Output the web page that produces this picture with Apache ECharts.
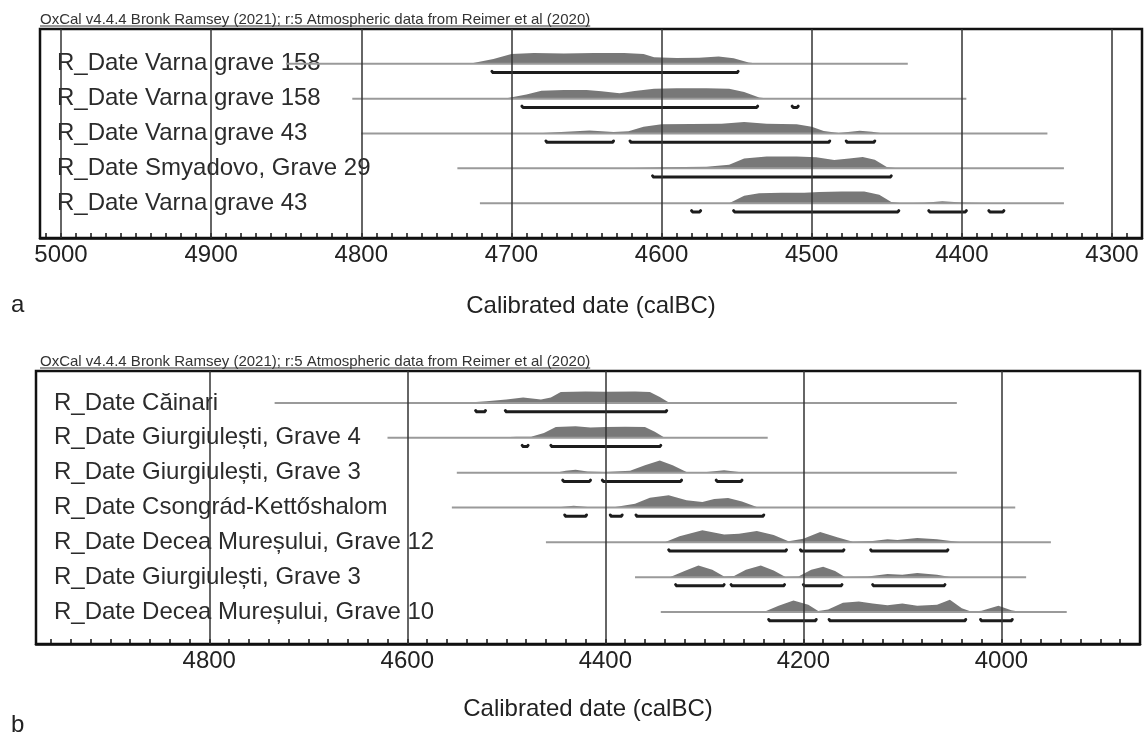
<!DOCTYPE html>
<html>
<head>
<meta charset="utf-8">
<title>OxCal multiplot</title>
<script src="https://cdn.jsdelivr.net/npm/echarts@6/dist/echarts.min.js"></script>
<style>
  html, body { margin: 0; padding: 0; background: #fff; }
  #chart { width: 1145px; height: 735px; }
</style>
</head>
<body>
<div id="chart"></div>
<script>
// ---- panel a ----
const labelsA = [
  'R_Date Varna grave 158',
  'R_Date Varna grave 158',
  'R_Date Varna grave 43',
  'R_Date Smyadovo, Grave 29',
  'R_Date Varna grave 43'
];
// full range line drawn for each date (calBC)
const spanA = [[4850, 4436], [4806, 4397], [4800, 4343], [4736, 4332], [4721, 4332]];
// 95.4% ranges (bars under each curve)
const hpdA = [
  [[4713, 4549]],
  [[4693, 4536], [4513, 4509]],
  [[4677, 4632], [4621, 4488], [4477, 4458]],
  [[4606, 4447]],
  [[4580, 4574], [4552, 4442], [4422, 4397], [4382, 4372]]
];
// probability curves, [year, relative height]
const probA = [
  [[4728, 0], [4712, 0.4], [4700, 0.8], [4685, 0.88], [4665, 0.85], [4645, 0.88], [4625, 0.88], [4612, 0.8], [4605, 0.55], [4590, 0.48], [4575, 0.5], [4562, 0.6], [4552, 0.45], [4542, 0.1], [4535, 0]],
  [[4705, 0], [4690, 0.35], [4680, 0.65], [4665, 0.72], [4650, 0.72], [4640, 0.6], [4628, 0.45], [4618, 0.62], [4605, 0.82], [4590, 0.86], [4570, 0.86], [4555, 0.82], [4545, 0.55], [4535, 0.1], [4528, 0]],
  [[4685, 0], [4670, 0.1], [4648, 0.25], [4632, 0.12], [4622, 0.18], [4612, 0.55], [4600, 0.75], [4580, 0.78], [4560, 0.8], [4545, 0.95], [4530, 0.8], [4510, 0.75], [4500, 0.55], [4492, 0.2], [4482, 0.05], [4468, 0.22], [4460, 0.15], [4452, 0]],
  [[4625, 0], [4600, 0.08], [4570, 0.12], [4555, 0.3], [4545, 0.8], [4530, 0.97], [4510, 0.97], [4497, 0.9], [4485, 0.68], [4475, 0.8], [4466, 0.93], [4458, 0.7], [4450, 0.1], [4443, 0]],
  [[4555, 0], [4545, 0.6], [4535, 0.82], [4520, 0.85], [4505, 0.85], [4495, 0.92], [4480, 0.95], [4465, 0.95], [4455, 0.7], [4447, 0.1], [4440, 0], [4425, 0.03], [4413, 0.15], [4400, 0.05], [4380, 0]]
];
const ticksA = [5000, 4900, 4800, 4700, 4600, 4500, 4400, 4300];

// ---- panel b ----
const labelsB = [
  'R_Date Căinari',
  'R_Date Giurgiulești, Grave 4',
  'R_Date Giurgiulești, Grave 3',
  'R_Date Csongrád-Kettőshalom',
  'R_Date Decea Mureșului, Grave 12',
  'R_Date Giurgiulești, Grave 3',
  'R_Date Decea Mureșului, Grave 10'
];
const spanB = [[4734, 4045], [4620, 4236], [4550, 4045], [4555, 3986], [4460, 3950], [4370, 3975], [4344, 3934]];
const hpdB = [
  [[4531, 4521], [4501, 4338]],
  [[4484, 4478], [4455, 4344]],
  [[4443, 4415], [4403, 4323], [4288, 4262]],
  [[4441, 4419], [4395, 4383], [4369, 4240]],
  [[4336, 4217], [4203, 4159], [4132, 4054]],
  [[4329, 4280], [4273, 4219], [4200, 4161], [4130, 4057]],
  [[4235, 4187], [4174, 4036], [4021, 3989]]
];
const probB = [
  [[4545, 0], [4520, 0.15], [4500, 0.3], [4483, 0.45], [4465, 0.28], [4455, 0.45], [4445, 0.9], [4420, 0.95], [4400, 0.93], [4370, 0.95], [4355, 0.9], [4345, 0.5], [4335, 0]],
  [[4515, 0], [4490, 0.1], [4475, 0.1], [4462, 0.4], [4450, 0.9], [4430, 0.95], [4415, 0.85], [4400, 0.9], [4380, 0.92], [4360, 0.9], [4350, 0.5], [4340, 0]],
  [[4450, 0], [4440, 0.15], [4430, 0.25], [4418, 0.1], [4400, 0.05], [4375, 0.15], [4360, 0.6], [4345, 1.0], [4332, 0.6], [4318, 0.05], [4300, 0.03], [4280, 0.2], [4265, 0.05], [4250, 0]],
  [[4450, 0], [4432, 0.15], [4415, 0.03], [4390, 0.05], [4370, 0.3], [4355, 0.8], [4336, 1.0], [4318, 0.6], [4302, 0.45], [4290, 0.7], [4276, 0.78], [4262, 0.5], [4247, 0.05], [4240, 0]],
  [[4340, 0], [4325, 0.5], [4302, 1.0], [4280, 0.65], [4265, 0.7], [4247, 0.92], [4230, 0.6], [4215, 0.08], [4200, 0.3], [4183, 0.85], [4165, 0.4], [4150, 0.05], [4130, 0.1], [4115, 0.25], [4105, 0.2], [4085, 0.35], [4065, 0.25], [4045, 0.05], [4040, 0]],
  [[4335, 0], [4320, 0.5], [4306, 0.95], [4292, 0.6], [4280, 0.05], [4270, 0.1], [4258, 0.6], [4243, 0.95], [4230, 0.55], [4218, 0.02], [4205, 0.05], [4192, 0.6], [4180, 0.85], [4168, 0.5], [4158, 0.02], [4135, 0.05], [4115, 0.25], [4100, 0.2], [4085, 0.33], [4065, 0.2], [4050, 0]],
  [[4240, 0], [4225, 0.5], [4210, 0.95], [4195, 0.6], [4185, 0.08], [4175, 0.2], [4160, 0.75], [4144, 0.85], [4130, 0.7], [4115, 0.55], [4100, 0.7], [4085, 0.5], [4065, 0.6], [4052, 1.0], [4040, 0.3], [4030, 0.02], [4020, 0.1], [4003, 0.5], [3990, 0.15], [3980, 0]]
];
const ticksB = [4800, 4600, 4400, 4200, 4000];

const titleText = 'OxCal v4.4.4 Bronk Ramsey (2021); r:5 Atmospheric data from Reimer et al (2020)';

const FONT = '"Liberation Sans", Arial, sans-serif';
const PEAK = 0.35;       // tallest hump, in row units
const HPD_OFFSET = 0.25; // bars sit a bit under the row line

function textWidth(str, font) {
  const ctx = document.createElement('canvas').getContext('2d');
  ctx.font = font;
  return ctx.measureText(str).width;
}

function renderPanel(labels, spans, hpds, probs, labelPad) {
  return function (params, api) {
    const i = params.dataIndex;
    const row = api.value(1);
    const rowH = api.size([0, 1])[1];
    const cs = params.coordSys;
    const y0 = api.coord([spans[i][0], row])[1];
    const xs = spans[i].map((v) => api.coord([v, row])[0]);
    const poly = probs[i].map((p) => {
      const c = api.coord([p[0], row]);
      return [c[0], c[1] - p[1] * PEAK * rowH];
    });
    const children = [
      {
        type: 'text', x: cs.x + labelPad, y: y0,
        style: { text: labels[i], font: '24px ' + FONT, fill: '#2b2b2b', verticalAlign: 'middle' }
      },
      { type: 'polygon', shape: { points: poly }, style: { fill: '#787878' } },
      { type: 'line', shape: { x1: xs[0], y1: y0, x2: xs[1], y2: y0 }, style: { stroke: '#9a9a9a', lineWidth: 2 } }
    ];
    const yy = y0 + HPD_OFFSET * rowH;
    hpds[i].forEach((h) => {
      const a = api.coord([h[0], row])[0];
      const b = api.coord([h[1], row])[0];
      // bar with slightly upturned ends, like OxCal draws them
      children.push({
        type: 'polyline',
        shape: { points: [[a, yy - 1.2], [a + 1, yy], [b - 1, yy], [b, yy - 1.2]] },
        style: { stroke: '#1c1c1c', lineWidth: 3, fill: null, lineJoin: 'round', lineCap: 'round' }
      });
    });
    return { type: 'group', children };
  };
}

function xAxisFor(gridIndex, min, max, step, ticks, nameGap) {
  return {
    type: 'value', gridIndex, min, max, interval: step, inverse: true, position: 'bottom',
    axisLine: { onZero: false, lineStyle: { color: '#111', width: 2.5 } },
    axisTick: { inside: true, length: 5, lineStyle: { color: '#111', width: 1.5 } },
    axisLabel: {
      fontSize: 24, fontFamily: FONT, color: '#222', margin: 5,
      formatter: (v) => (ticks.includes(Math.round(v)) ? String(Math.round(v)) : '')
    },
    splitLine: { show: false },
    name: 'Calibrated date (calBC)', nameLocation: 'middle', nameGap,
    nameTextStyle: { fontSize: 24, fontFamily: FONT, color: '#222' }
  };
}

function gridLines(ticks) {
  return {
    silent: true, symbol: ['none', 'none'], animation: false,
    label: { show: false },
    lineStyle: { color: '#333', width: 1.5, type: 'solid' },
    emphasis: { disabled: true },
    data: ticks.map((v) => ({ xAxis: v }))
  };
}

const titleFont = '15px ' + FONT;
const titleW = textWidth(titleText, titleFont);

const chart = echarts.init(document.getElementById('chart'));
chart.setOption({
  animation: false,
  backgroundColor: '#fff',
  grid: [
    { left: 40, right: 0, top: 29, height: 209, show: true, borderColor: '#111', borderWidth: 2.5 },
    { left: 36, width: 1104, top: 371, height: 273, show: true, borderColor: '#111', borderWidth: 2.5 }
  ],
  xAxis: [
    xAxisFor(0, 4280, 5014, 10, ticksA, 56),
    xAxisFor(1, 3860, 4975, 20, ticksB, 53)
  ],
  yAxis: [
    { type: 'value', gridIndex: 0, min: 0, max: 6, inverse: true, show: false, splitLine: { show: false } },
    { type: 'value', gridIndex: 1, min: 0.08, max: 7.92, inverse: true, show: false, splitLine: { show: false } }
  ],
  graphic: [
    { type: 'text', x: 40, y: 20, style: { text: titleText, font: titleFont, fill: '#333', verticalAlign: 'middle' } },
    { type: 'line', shape: { x1: 40, y1: 26, x2: 40 + titleW, y2: 26 }, style: { stroke: '#333', lineWidth: 1 } },
    { type: 'text', x: 40, y: 362, style: { text: titleText, font: titleFont, fill: '#333', verticalAlign: 'middle' } },
    { type: 'line', shape: { x1: 40, y1: 368, x2: 40 + titleW, y2: 368 }, style: { stroke: '#333', lineWidth: 1 } },
    { type: 'text', x: 11, y: 305, style: { text: 'a', font: '24px ' + FONT, fill: '#222', verticalAlign: 'middle' } },
    { type: 'text', x: 11, y: 725, style: { text: 'b', font: '24px ' + FONT, fill: '#222', verticalAlign: 'middle' } }
  ],
  series: [
    {
      type: 'custom', xAxisIndex: 0, yAxisIndex: 0,
      renderItem: renderPanel(labelsA, spanA, hpdA, probA, 17),
      data: labelsA.map((_, i) => [spanA[i][0], i + 1]),
      markLine: gridLines(ticksA)
    },
    {
      type: 'custom', xAxisIndex: 1, yAxisIndex: 1,
      renderItem: renderPanel(labelsB, spanB, hpdB, probB, 18),
      data: labelsB.map((_, i) => [spanB[i][0], i + 1]),
      markLine: gridLines(ticksB)
    }
  ]
});
</script>
</body>
</html>
